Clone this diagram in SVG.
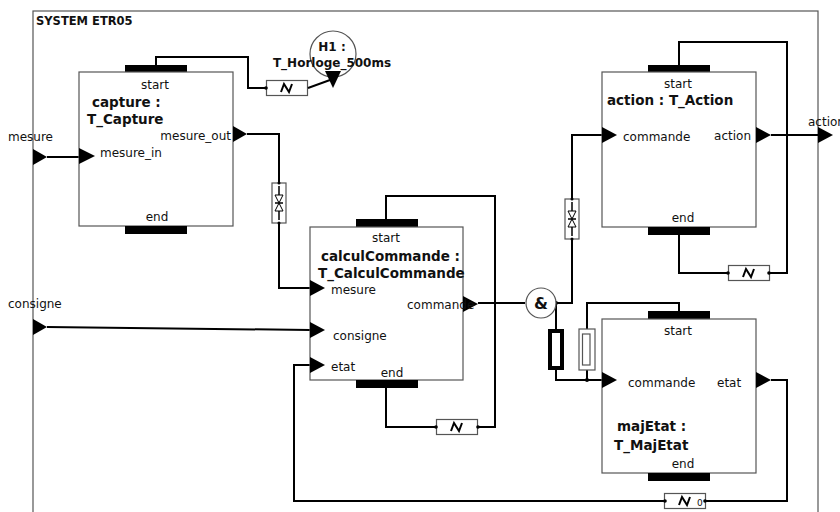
<svg xmlns="http://www.w3.org/2000/svg" width="840" height="512" viewBox="0 0 840 512">
<style>
text{font-family:"DejaVu Sans","Liberation Sans",sans-serif;fill:#111}
.lbl{font-size:12px}
.bold{font-weight:bold;font-size:13.5px}
.mid{text-anchor:middle}
.end{text-anchor:end}
.box{fill:#fff;stroke:#555;stroke-width:1.2}
.bar{fill:#000}
.port{fill:#000}
.wire{fill:none;stroke:#000;stroke-width:2}
.dbox{fill:#fff;stroke:#555;stroke-width:1.2}
.sym{fill:none;stroke:#000;stroke-width:2}
</style>
<defs>
<g id="delay">
<rect class="dbox" x="-20.5" y="-7.5" width="41" height="15"/>
<path d="M-6,4 L-3,-4 L2,4 L5,-4" fill="none" stroke="#000" stroke-width="2"/>
</g>
<g id="valve">
<rect class="dbox" x="-7" y="-20" width="14" height="40"/>
<path d="M0,-17 V17 M-4,0 H4" stroke="#000" stroke-width="1.5"/>
<path d="M-4,-8 H4 L0,0 Z M-4,8 H4 L0,0 Z" fill="#fff" stroke="#000" stroke-width="1"/>
</g>
</defs>

<g id="system">
<rect x="33" y="11" width="785" height="520" fill="none" stroke="#555" stroke-width="1.2"/>
<text x="36" y="25" style="font-weight:bold;font-size:11.5px">SYSTEM ETR05</text>
<path class="port" d="M33,149 L47,157 L33,165 Z"/>
<text class="lbl" x="8" y="141">mesure</text>
<path class="port" d="M33,319 L47,327 L33,335 Z"/>
<text class="lbl" x="8" y="308">consigne</text>
<path class="port" d="M818,127 L833,135 L818,143 Z"/>
<text class="lbl" x="808" y="126">action</text>
</g>

<g id="connectors">
<!-- capture start to clock -->
<path class="wire" d="M156,65 V57 H248 V88 H266"/>
<use href="#delay" x="287" y="88"/>
<path class="wire" d="M308,88 L330,80"/>
<!-- mesure to capture -->
<path class="wire" d="M47,157 H79"/>
<!-- capture out to calcul mesure -->
<path class="wire" d="M247,134 H279 V288 H310"/>
<use href="#valve" x="279" y="203"/>
<!-- consigne -->
<path class="wire" d="M47,327 L310,330"/>
<!-- calcul start/end loop -->
<path class="wire" d="M386,219 V196 H495 V427 H478"/>
<path class="wire" d="M386,388 V427 H436"/>
<use href="#delay" x="457" y="427"/>
<!-- commande to & -->
<path class="wire" d="M478,303 H525"/>
<!-- & to action commande -->
<path class="wire" d="M556,303 H572 V135 H602"/>
<use href="#valve" x="572" y="219"/>
<!-- action start/end loop -->
<path class="wire" d="M679,65 V42 H787 V273 H769"/>
<path class="wire" d="M679,234 V273 H728"/>
<use href="#delay" x="749" y="273"/>
<!-- action out -->
<path class="wire" d="M771,135 H818"/>
<!-- & to majEtat commande -->
<path class="wire" d="M556,303 V329"/>
<path class="wire" d="M556,370 V380 H602"/>
<rect x="548" y="329" width="16" height="41" fill="#000"/>
<rect x="552" y="333" width="8" height="33" fill="#fff"/>
<!-- majEtat start to commande -->
<path class="wire" d="M679,311 V303 H587 V329"/>
<path class="wire" d="M587,370 V380"/>
<rect x="579" y="329" width="16" height="41" fill="#fff" stroke="#555" stroke-width="1.2"/>
<rect x="582.5" y="334" width="7.5" height="31" fill="#fff" stroke="#555" stroke-width="1.2"/>
<!-- etat feedback -->
<path class="wire" d="M771,380 H787 V501 H705"/>
<path class="wire" d="M665,501 H294 V365 H310"/>
<use href="#delay" x="685" y="501"/>
<text x="697" y="506" style="font-size:9px">0</text>
<!-- small dots -->
<g fill="#000">
<circle cx="266" cy="88" r="1.8"/><circle cx="436" cy="427" r="1.8"/><circle cx="478" cy="427" r="1.8"/>
<circle cx="728" cy="273" r="1.8"/><circle cx="769" cy="273" r="1.8"/><circle cx="705" cy="501" r="1.8"/><circle cx="665" cy="501" r="1.8"/>
<circle cx="587" cy="380" r="2"/><circle cx="556" cy="303" r="2"/>
<circle cx="279" cy="183" r="1.5"/><circle cx="279" cy="223" r="1.5"/><circle cx="572" cy="199" r="1.5"/><circle cx="572" cy="239" r="1.5"/>
</g>
</g>

<g id="H1">
<circle cx="333" cy="54" r="23" fill="none" stroke="#555" stroke-width="1.2"/>
<path d="M325,71 L341,71 L333,88 Z" fill="#000"/>
<text x="332" y="51" class="mid" style="font-weight:bold;font-size:12px">H1 :</text>
<text x="332" y="67" class="mid" style="font-weight:bold;font-size:12px">T_Horloge_500ms</text>
</g>

<g id="capture">
<rect class="bar" x="125" y="65" width="62" height="8"/>
<rect class="box" x="79" y="72" width="154" height="154"/>
<rect class="bar" x="125" y="226" width="62" height="8"/>
<path class="port" d="M79,148 L95,156 L79,164 Z"/>
<path class="port" d="M233,126 L247,134 L233,142 Z"/>
<text class="lbl mid" x="155" y="89">start</text>
<text class="bold" x="92" y="107">capture :</text>
<text class="bold" x="87" y="124">T_Capture</text>
<text class="lbl end" x="231" y="140">mesure_out</text>
<text class="lbl" x="100" y="157">mesure_in</text>
<text class="lbl mid" x="157" y="221">end</text>
</g>

<g id="calculCommande">
<rect class="bar" x="356" y="219" width="62" height="8"/>
<rect class="box" x="310" y="227" width="153" height="153"/>
<rect class="bar" x="356" y="380" width="62" height="8"/>
<path class="port" d="M310,280 L325,288 L310,296 Z"/>
<path class="port" d="M310,322 L325,330 L310,338 Z"/>
<path class="port" d="M310,357 L325,365 L310,373 Z"/>
<path class="port" d="M463,296 L478,304 L463,312 Z"/>
<text class="lbl mid" x="386" y="242">start</text>
<text class="bold" x="321" y="261">calculCommande :</text>
<text class="bold" x="318" y="278">T_CalculCommande</text>
<text class="lbl" x="331" y="294">mesure</text>
<text class="lbl" x="407" y="309">commande</text>
<text class="lbl" x="333" y="340">consigne</text>
<text class="lbl" x="331" y="371">etat</text>
<text class="lbl mid" x="392" y="377">end</text>
</g>

<g id="and">
<circle cx="541" cy="303" r="15" fill="#fff" stroke="#555" stroke-width="1.2"/>
<text x="541" y="309" class="mid" style="font-weight:bold;font-size:16px">&amp;</text>
</g>

<g id="action">
<rect class="bar" x="648" y="65" width="62" height="8"/>
<rect class="box" x="602" y="72" width="154" height="155"/>
<rect class="bar" x="648" y="227" width="62" height="8"/>
<path class="port" d="M602,127 L617,135 L602,143 Z"/>
<path class="port" d="M756,127 L771,135 L756,143 Z"/>
<text class="lbl mid" x="678" y="88">start</text>
<text class="bold" x="607" y="105">action : T_Action</text>
<text class="lbl" x="623" y="141">commande</text>
<text class="lbl end" x="751" y="140">action</text>
<text class="lbl mid" x="683" y="222">end</text>
</g>

<g id="majEtat">
<rect class="bar" x="648" y="311" width="62" height="8"/>
<rect class="box" x="602" y="319" width="154" height="154"/>
<rect class="bar" x="648" y="473" width="62" height="8"/>
<path class="port" d="M602,372 L617,380 L602,388 Z"/>
<path class="port" d="M756,372 L771,380 L756,388 Z"/>
<text class="lbl mid" x="678" y="335">start</text>
<text class="lbl" x="628" y="387">commande</text>
<text class="lbl" x="717" y="387">etat</text>
<text class="bold" x="617" y="431">majEtat :</text>
<text class="bold" x="614" y="450">T_MajEtat</text>
<text class="lbl mid" x="683" y="468">end</text>
</g>
</svg>
